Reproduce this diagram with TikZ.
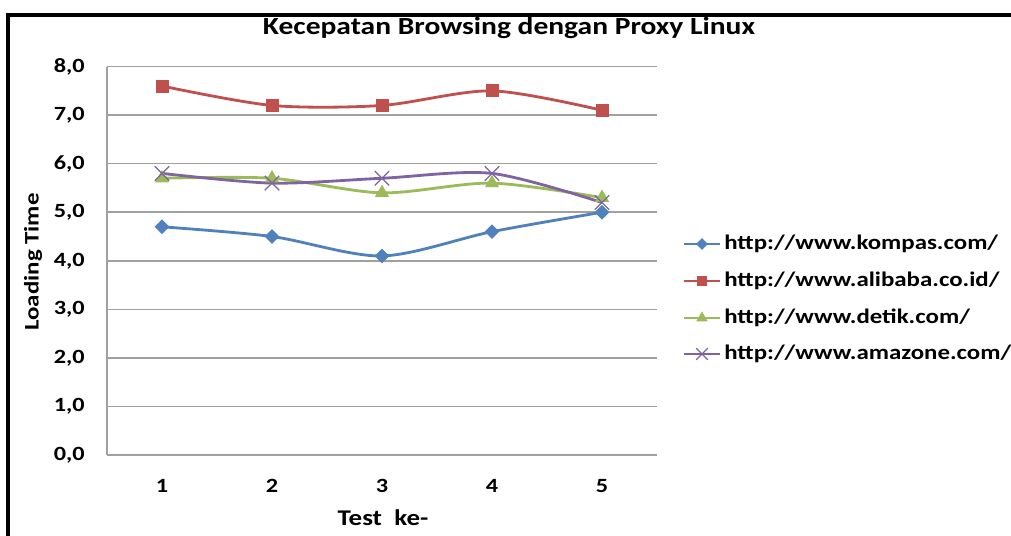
\documentclass[tikz,border=0pt]{standalone}
\usepackage{fontspec}
\setmainfont{Carlito}[FakeStretch=1.2]
\usepackage{tikz}
\usetikzlibrary{calc,positioning,shapes.geometric,shapes.misc}
\definecolor{kompasblue}{HTML}{4F81BD}
\definecolor{alibabared}{HTML}{C0504D}
\definecolor{detikgreen}{HTML}{9BBB59}
\definecolor{amazonepurple}{HTML}{8064A2}
\definecolor{gridgray}{HTML}{A0A0A0}
\tikzset{
    gridline/.style={draw=gridgray,line width=0.85pt},
    bingkai/.style={draw=black,line width=1.8pt},
    judul/.style={font=\bfseries\fontsize{14}{16}\selectfont,inner sep=0pt},
    ticklabel/.style={font=\bfseries\fontsize{11.5}{13}\selectfont,inner sep=0pt},
    axislabel/.style={font=\bfseries\fontsize{12.8}{15}\selectfont,inner sep=0pt},
    legendtext/.style={font=\bfseries\fontsize{11.8}{13}\selectfont,inner sep=0pt,anchor=west},
    garis/.style={line width=1.6pt,smooth,tension=0.5},
    mkompas/.style={diamond,fill=kompasblue,inner sep=0pt,minimum size=8.5pt},
    malibaba/.style={rectangle,fill=alibabared,inner sep=0pt,minimum size=7.4pt},
    mdetik/.style={isosceles triangle,isosceles triangle apex angle=60,shape border rotate=90,fill=detikgreen,inner sep=0pt,minimum size=7pt},
    mamazone/.style={cross out,draw=amazonepurple,line width=0.7pt,inner sep=0pt,minimum size=7.5pt},
    legendmark/.style={scale=0.8},
}
\newcommand\xpos[1]{52+110*#1}
\newcommand\ypos[1]{455-48.55*#1}
\begin{document}
\begin{tikzpicture}[x=0.02cm,y=-0.02cm]
\useasboundingbox (0,0) rectangle (1011,536);
\draw[bingkai] (8,540) -- (8,15) -- (1015,15);

% grid dan sumbu
\foreach \v in {0,...,8} {
  \draw[gridline] (107,{\ypos{\v}}) -- (657,{\ypos{\v}});
  \node[ticklabel,anchor=east] (ytick\v) at (85,{\ypos{\v}}) {\v,0};
}
\draw[gridline] (107,{\ypos{0}}) -- (107,{\ypos{8}});
\foreach \i in {1,...,5}
  \node[ticklabel] (xtick\i) at ({\xpos{\i}},486) {\i};

\node[judul] (title) at (509,28) {Kecepatan Browsing dengan Proxy Linux};
\node[axislabel] (xlabel) at (383,518) {Test\ \ ke-};
\node[axislabel,font=\bfseries\fontsize{11.8}{14}\selectfont,rotate=90] (ylabel) at (33,262) {Loading Time};

% titik data
\foreach \i/\a/\b/\c/\d in {1/4.7/7.6/5.7/5.8, 2/4.5/7.2/5.7/5.6, 3/4.1/7.2/5.4/5.7, 4/4.6/7.5/5.6/5.8, 5/5.0/7.1/5.3/5.2} {
  \coordinate (k\i) at ({\xpos{\i}},{\ypos{\a}});
  \coordinate (a\i) at ({\xpos{\i}},{\ypos{\b}});
  \coordinate (d\i) at ({\xpos{\i}},{\ypos{\c}});
  \coordinate (z\i) at ({\xpos{\i}},{\ypos{\d}});
}

\draw[garis,alibabared] plot coordinates {(a1) (a2) (a3) (a4) (a5)};
\draw[garis,detikgreen] plot coordinates {(d1) (d2) (d3) (d4) (d5)};
\draw[garis,amazonepurple] plot coordinates {(z1) (z2) (z3) (z4) (z5)};
\draw[garis,kompasblue] plot coordinates {(k1) (k2) (k3) (k4) (k5)};
\foreach \i in {1,...,5} {
  \node[malibaba] at (a\i) {};
  \node[mdetik] at (d\i) {};
  \node[mamazone] at (z\i) {};
  \node[mkompas] at (k\i) {};
}

% legenda
\coordinate (lk) at (684,244);
\coordinate (la) at (684,281);
\coordinate (ld) at (684,318);
\coordinate (lz) at (684,354);
\draw[line width=1.6pt,kompasblue] (lk) -- ++(36,0) coordinate (lk2);
\draw[line width=1.6pt,alibabared] (la) -- ++(36,0) coordinate (la2);
\draw[line width=1.6pt,detikgreen] (ld) -- ++(36,0) coordinate (ld2);
\draw[line width=1.6pt,amazonepurple] (lz) -- ++(36,0) coordinate (lz2);
\node[mkompas,legendmark] (lkm) at ($(lk)!0.5!(lk2)$) {};
\node[malibaba,legendmark] (lam) at ($(la)!0.5!(la2)$) {};
\node[mdetik,legendmark] (ldm) at ($(ld)!0.5!(ld2)$) {};
\node[mamazone,legendmark] (lzm) at ($(lz)!0.5!(lz2)$) {};
\node[legendtext] (tk) at (724,244) {http://www.kompas.com/};
\node[legendtext] (ta) at (724,281) {http://www.alibaba.co.id/};
\node[legendtext] (td) at (724,318) {http://www.detik.com/};
\node[legendtext] (tz) at (724,354) {http://www.amazone.com/};
\end{tikzpicture}
\end{document}
